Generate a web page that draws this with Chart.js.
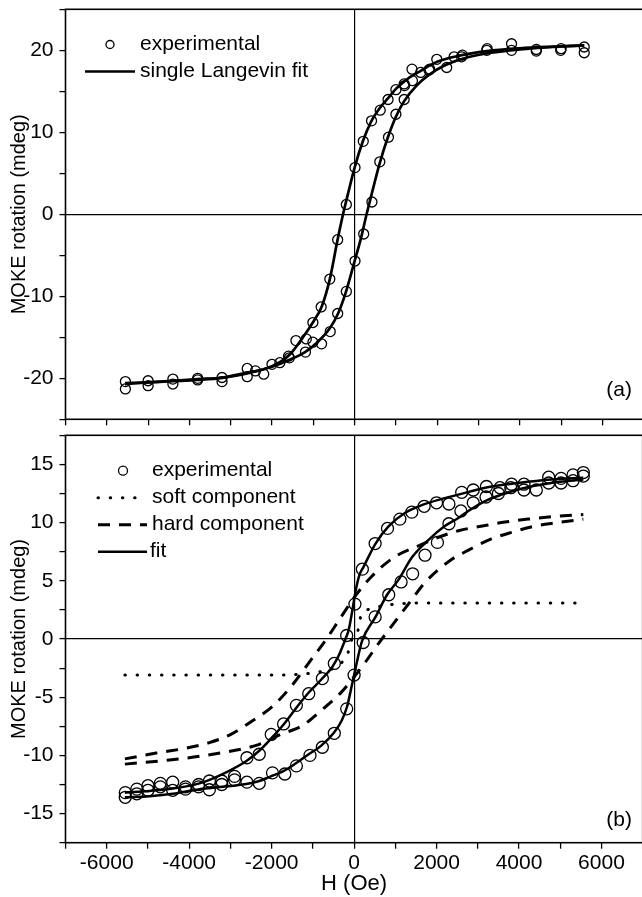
<!DOCTYPE html>
<html>
<head>
<meta charset="utf-8">
<script src="https://cdn.jsdelivr.net/npm/chart.js@4.4.0/dist/chart.umd.min.js"></script>
<style>
  html, body { margin: 0; padding: 0; background: #fff; overflow: hidden; }
  #wrap { position: relative; width: 642px; height: 897px; overflow: hidden; }
  canvas { position: absolute; left: 0; }
  #panelA { top: 0; }
  #panelB { top: 428px; }
</style>
</head>
<body>
<div id="wrap">
  <canvas id="panelA" width="650" height="428"></canvas>
  <canvas id="panelB" width="650" height="469"></canvas>
</div>
<script>
const FONT = '"Liberation Sans", Arial, sans-serif'

// ---- panel (a): single Langevin fit ----
// experimental, field sweeping down
const aDownExpH = [5560, 4990, 4400, 3800, 3210, 2610, 2410, 1990, 1820, 1600, 1390, 1200, 1000, 810, 620, 410, 210, 10, -200, -410, -600, -810, -1010, -1170, -1420, -1600, -2000, -2400, -2600, -3210, -3800, -4400, -5000, -5550]
const aDownExpM = [19.7, 20.0, 20.1, 20.8, 20.2, 19.4, 19.2, 18.9, 17.7, 17.3, 17.7, 15.9, 15.2, 14.0, 12.7, 11.4, 8.9, 5.7, 1.2, -3.1, -7.9, -11.3, -13.2, -15.2, -15.4, -17.3, -18.3, -19.1, -18.8, -19.9, -20.0, -20.1, -20.3, -20.4]
// experimental, field sweeping up
const aUpExpH = [-5550, -5000, -4400, -3800, -3210, -2600, -2200, -1810, -1580, -1190, -1010, -800, -590, -410, -200, 10, 220, 420, 610, 820, 1000, 1200, 1210, 1400, 1800, 2230, 2590, 3200, 3800, 4400, 5000, 5560]
const aUpExpM = [-21.3, -20.9, -20.7, -20.2, -20.4, -19.8, -19.5, -18.1, -17.5, -16.8, -15.6, -15.8, -14.3, -12.1, -9.4, -5.7, -2.4, 1.5, 6.4, 9.4, 12.2, 14.0, 15.7, 16.3, 17.6, 17.9, 19.2, 20.0, 20.0, 19.9, 20.2, 20.4]
// fit curves
const aUpFitH = [-5560, -5000, -4400, -3800, -3200, -2600, -2000, -1600, -1200, -900, -600, -400, -200, 0, 150, 290, 450, 600, 800, 1000, 1200, 1500, 1800, 2200, 2700, 3300, 4000, 4800, 5560]
const aUpFitM = [-20.6, -20.5, -20.35, -20.2, -19.95, -19.4, -18.6, -17.8, -16.8, -15.6, -13.9, -12.1, -9.3, -5.7, -3.0, 0, 3.2, 6.1, 9.3, 11.9, 13.8, 15.7, 17.0, 18.2, 19.1, 19.7, 20.1, 20.4, 20.6]
const aDownFitH = [-5560, -5000, -4400, -3800, -3200, -2600, -2200, -1800, -1550, -1250, -1000, -800, -600, -420, -280, -150, 0, 200, 400, 600, 800, 1000, 1250, 1600, 2000, 2500, 3200, 4000, 4800, 5560]
const aDownFitM = [-20.7, -20.5, -20.3, -20.1, -19.9, -19.3, -18.9, -18.0, -17.0, -15.0, -13.1, -11.3, -7.9, -3.3, 0, 2.7, 5.7, 8.9, 11.3, 12.9, 14.1, 15.3, 16.4, 17.5, 18.6, 19.3, 19.9, 20.25, 20.45, 20.6]

// ---- panel (b): soft + hard components ----
const bDownExpH = [5560, 5310, 5020, 4720, 4120, 3820, 3540, 3210, 2890, 2610, 2300, 2000, 1700, 1400, 1110, 810, 510, 200, 20, -180, -480, -770, -1100, -1400, -1710, -2010, -2300, -2600, -2900, -3210, -3510, -3770, -4090, -4400, -4700, -5000, -5270, -5550]
const bDownExpM = [14.3, 14.1, 13.8, 13.9, 13.3, 13.3, 13.0, 13.1, 12.8, 12.6, 11.6, 11.7, 11.4, 10.9, 10.3, 9.5, 8.2, 6.0, 3.0, 0.3, -2.1, -3.4, -4.7, -5.7, -7.3, -8.2, -9.9, -10.2, -11.8, -12.2, -12.2, -12.5, -12.7, -12.3, -12.4, -12.6, -12.9, -13.2]
const bUpExpH = [-5550, -5270, -5000, -4700, -4400, -4090, -3770, -3510, -3210, -2900, -2600, -2300, -1980, -1680, -1400, -1070, -770, -480, -180, 0, 220, 510, 840, 1140, 1420, 1720, 2020, 2300, 2590, 2890, 3200, 3500, 3800, 4120, 4420, 4720, 5020, 5310, 5560]
const bUpExpM = [-13.6, -13.3, -13.0, -12.7, -13.0, -12.9, -12.7, -12.95, -12.5, -12.1, -12.3, -12.4, -11.5, -11.6, -10.9, -10.0, -9.3, -8.1, -6.0, -3.1, -0.3, 1.9, 3.8, 4.9, 5.6, 7.2, 8.3, 9.9, 11.0, 11.7, 12.2, 12.5, 13.0, 12.8, 12.8, 13.4, 13.4, 13.6, 14.0]

const softH = [-5560, -4000, -2000, -1200, -800, -550, -350, -150, -50, 100, 160, 400, 700, 1000, 2000, 5450]
const softM = [-3.1, -3.1, -3.1, -3.0, -2.8, -2.6, -2.2, -1.2, 0, 0.8, 1.9, 2.6, 2.85, 3.0, 3.1, 3.1]

const hardDownH = [-5560, -4800, -4030, -3510, -2990, -2500, -1980, -1510, -1090, -690, -370, 30, 420, 960, 1560, 2130, 2530, 3180, 3660, 4220, 4780, 5560]
const hardDownM = [-10.3, -9.8, -9.35, -8.9, -8.2, -7.1, -5.8, -4.0, -2.0, -0.1, 1.6, 3.7, 5.35, 7.0, 8.0, 8.85, 9.3, 9.75, 10.05, 10.3, 10.5, 10.7]
const hardUpH = [-5560, -4480, -3430, -2300, -1780, -1260, -770, -330, 230, 600, 960, 1360, 1730, 2330, 2810, 3330, 3860, 4380, 4950, 5560]
const hardUpM = [-10.75, -10.4, -9.9, -9.05, -8.2, -7.45, -6.05, -4.65, -2.2, -0.35, 1.35, 3.2, 4.9, 6.75, 7.7, 8.6, 9.2, 9.7, 10.0, 10.3]

const bDownFitH = [-5560, -4960, -4400, -3750, -3190, -2620, -2300, -2000, -1700, -1400, -1100, -800, -530, -370, -210, -130, -50, 30, 130, 230, 520, 840, 1240, 1640, 2200, 2530, 3180, 3980, 4780, 5560]
const bDownFitM = [-13.2, -13.05, -12.85, -12.4, -11.6, -10.5, -9.6, -8.5, -7.3, -5.9, -4.6, -3.5, -2.4, -1.4, 0, 0.8, 2.3, 4.0, 5.5, 6.2, 8.2, 9.7, 10.85, 11.5, 12.1, 12.4, 13.0, 13.4, 13.7, 13.85]
const bUpFitH = [-5560, -4960, -4400, -3750, -3200, -2620, -2300, -2020, -1740, -1420, -1100, -810, -490, -300, -170, -50, 30, 190, 520, 800, 1080, 1400, 1800, 2200, 2530, 2770, 3180, 3580, 3980, 4780, 5560]
const bUpFitM = [-13.6, -13.5, -13.3, -12.9, -12.7, -12.45, -12.2, -11.8, -11.4, -10.7, -9.9, -9.2, -8.05, -7.0, -5.8, -3.9, -2.6, -0.2, 1.9, 3.8, 5.1, 7.0, 8.5, 9.7, 10.4, 11.0, 11.85, 12.4, 12.85, 13.4, 13.7]

const xLabelStep = 2000
const aLabelStep = 10
const bLabelStep = 5

function pts(hs, ms) {
  return hs.map((h, i) => ({ x: h, y: ms[i] }))
}

function circles(hs, ms, r) {
  return {
    data: pts(hs, ms),
    showLine: false,
    pointStyle: 'circle',
    pointRadius: r,
    pointBorderWidth: 1.3,
    pointBorderColor: '#000',
    pointBackgroundColor: 'rgba(0,0,0,0)'
  }
}

function curve(hs, ms, width, dash, cap) {
  return {
    data: pts(hs, ms),
    showLine: true,
    pointRadius: 0,
    borderColor: '#000',
    borderWidth: width,
    borderDash: dash || [],
    borderCapStyle: cap || 'butt',
    cubicInterpolationMode: 'monotone',
    fill: false
  }
}

// frame round the plot area
const framePlugin = {
  id: 'frame',
  afterDatasetsDraw(chart) {
    const { ctx, chartArea: a } = chart
    ctx.save()
    ctx.strokeStyle = '#000'
    ctx.lineWidth = 1.6
    ctx.strokeRect(a.left, a.top, a.right - a.left, a.bottom - a.top)
    ctx.restore()
  }
}

// legend drawn inside the plot + panel tag
function legendPlugin(spec) {
  return {
    id: 'boxLegend',
    afterDraw(chart) {
      const ctx = chart.ctx
      ctx.save()
      ctx.font = spec.fontSize + 'px ' + FONT
      ctx.fillStyle = '#000'
      ctx.strokeStyle = '#000'
      ctx.textBaseline = 'middle'
      spec.items.forEach((it, i) => {
        const y = spec.top + i * spec.rowGap
        if (it.kind === 'circle') {
          ctx.lineWidth = 1.3
          ctx.beginPath()
          ctx.arc(spec.markX, y, spec.markR, 0, Math.PI * 2)
          ctx.stroke()
        } else {
          ctx.lineWidth = it.width
          ctx.lineCap = it.cap || 'butt'
          ctx.setLineDash(it.dash || [])
          ctx.beginPath()
          ctx.moveTo(spec.lineX0, y)
          ctx.lineTo(it.x1 || spec.lineX1, y)
          ctx.stroke()
          ctx.setLineDash([])
        }
        ctx.textAlign = 'left'
        ctx.fillText(it.label, it.textX || spec.textX, y)
      })
      ctx.textAlign = 'right'
      ctx.fillText(spec.tag, spec.tagX, spec.tagY)
      ctx.restore()
    }
  }
}

function scales(cfg) {
  const zeroGrid = {
    color: c => (c.tick && c.tick.value === 0) ? '#000' : 'rgba(0,0,0,0)',
    lineWidth: 1.2,
    tickColor: '#000',
    tickWidth: 1.3,
    tickLength: 6,
    drawTicks: true
  }
  return {
    x: {
      type: 'linear',
      min: -7000,
      max: 7000,
      border: { display: false },
      grid: zeroGrid,
      ticks: {
        stepSize: 1000,
        autoSkip: false,
        maxRotation: 0,
        padding: 2,
        color: '#000',
        font: { family: FONT, size: 21 },
        callback: v => (cfg.xLabels && v % xLabelStep === 0 && Math.abs(v) < 7000) ? String(v) : ''
      },
      title: {
        display: cfg.xLabels,
        text: 'H (Oe)',
        color: '#000',
        font: { family: FONT, size: 22, lineHeight: 1.15 },
        padding: 0
      },
      afterFit: s => {
        s.height = cfg.xHeight
        s.paddingLeft = 0
        s.paddingRight = 0
      }
    },
    y: {
      type: 'linear',
      min: cfg.yMin,
      max: cfg.yMax,
      border: { display: false },
      grid: zeroGrid,
      ticks: {
        stepSize: cfg.yStep,
        autoSkip: false,
        padding: 6,
        color: '#000',
        font: { family: FONT, size: 21 },
        callback: v => Math.abs(v % cfg.labelStep) < 1e-6 ? String(v) : ''
      },
      title: {
        display: true,
        text: 'MOKE rotation (mdeg)',
        color: '#000',
        font: { family: FONT, size: 20 },
        padding: { top: 7, bottom: 0 }
      },
      afterFit: s => {
        s.width = 65.5
        s.paddingTop = 0
        s.paddingBottom = 0
      }
    }
  }
}

// panel (a)
new Chart(document.getElementById('panelA'), {
  type: 'scatter',
  data: {
    datasets: [
      circles(aDownExpH, aDownExpM, 5),
      circles(aUpExpH, aUpExpM, 5),
      curve(aUpFitH, aUpFitM, 2.7),
      curve(aDownFitH, aDownFitM, 2.7)
    ]
  },
  options: {
    responsive: false,
    animation: false,
    layout: { padding: { top: 9.3, right: 5, left: 0, bottom: 0 } },
    plugins: { legend: { display: false }, tooltip: { enabled: false } },
    scales: scales({ xLabels: false, xHeight: 8.7, yMin: -25, yMax: 25, yStep: 5, labelStep: aLabelStep })
  },
  plugins: [framePlugin, legendPlugin({
    fontSize: 21, top: 44.5, rowGap: 27,
    markX: 110, markR: 4, lineX0: 85, lineX1: 135, textX: 140,
    tag: '(a)', tagX: 632, tagY: 390,
    items: [
      { kind: 'circle', label: 'experimental' },
      { kind: 'line', width: 2.7, label: 'single Langevin fit' }
    ]
  })]
})

// panel (b)
new Chart(document.getElementById('panelB'), {
  type: 'scatter',
  data: {
    datasets: [
      circles(bDownExpH, bDownExpM, 6),
      circles(bUpExpH, bUpExpM, 6),
      curve(bUpFitH, bUpFitM, 2.5),
      curve(bDownFitH, bDownFitM, 2.5),
      curve(hardUpH, hardUpM, 3, [12, 9]),
      curve(hardDownH, hardDownM, 3, [12, 9]),
      curve(softH, softM, 3, [0.5, 11.7], 'round')
    ]
  },
  options: {
    responsive: false,
    animation: false,
    layout: { padding: { top: 4.7, right: 5, left: 0, bottom: 0 } },
    plugins: { legend: { display: false }, tooltip: { enabled: false } },
    scales: scales({ xLabels: true, xHeight: 54.3, yMin: -17.5, yMax: 17.5, yStep: 2.5, labelStep: bLabelStep })
  },
  plugins: [framePlugin, legendPlugin({
    fontSize: 21, top: 42.7, rowGap: 27,
    markX: 123, markR: 4.5, lineX0: 98, lineX1: 147, textX: 152,
    tag: '(b)', tagX: 632, tagY: 392,
    items: [
      { kind: 'circle', label: 'experimental' },
      { kind: 'line', width: 3, dash: [0.5, 11.7], cap: 'round', x1: 136, label: 'soft component' },
      { kind: 'line', width: 3, dash: [12, 9], label: 'hard component' },
      { kind: 'line', width: 2.5, label: 'fit', textX: 150 }
    ]
  })]
})
</script>
</body>
</html>
